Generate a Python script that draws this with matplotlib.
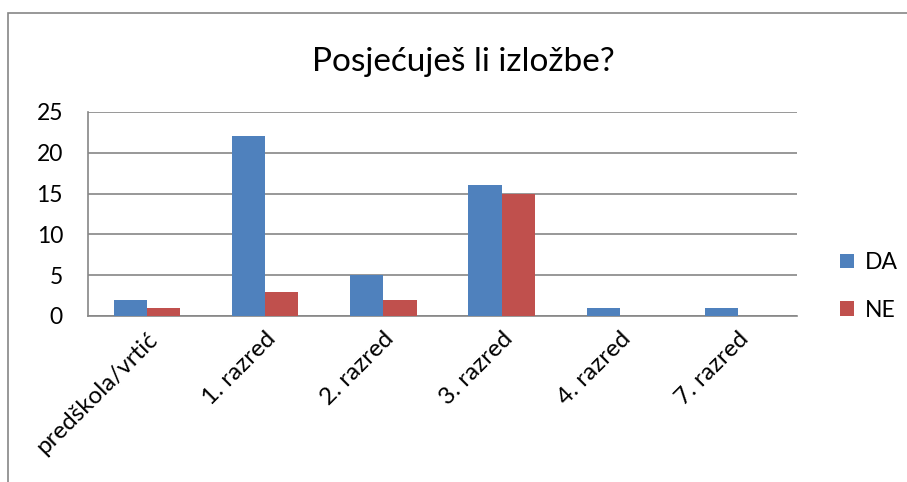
import matplotlib.pyplot as plt
import numpy as np
from matplotlib.patches import Rectangle

categories = ["predškola/vrtić", "1. razred", "2. razred", "3. razred", "4. razred", "7. razred"]
da_values = [2, 22, 5, 16, 1, 1]
ne_values = [1, 3, 2, 15, 0, 0]

plt.rcParams['font.family'] = ['Lato', 'DejaVu Sans']

fig = plt.figure(figsize=(9.07, 4.82), dpi=100)
ax = fig.add_axes([88 / 907, 1 - 316 / 482, (797 - 88) / 907, (316 - 112) / 482])

# outer chart frame (partly cut off in the original)
fig.patches.append(Rectangle((8 / 907, -0.1), 1.1, 1 - 13 / 482 + 0.1,
                             transform=fig.transFigure, fill=False,
                             edgecolor='#868686', linewidth=1.2))

x = np.arange(len(categories))
w = 0.28
ax.bar(x - w / 2, da_values, w, color='#4F81BD', label='DA', zorder=3)
ax.bar(x + w / 2, ne_values, w, color='#C0504D', label='NE', zorder=3)

ax.set_xlim(-0.5, len(categories) - 0.5)
ax.set_ylim(0, 25)
ax.set_yticks([0, 5, 10, 15, 20, 25])
ax.yaxis.grid(True, color='#868686', linewidth=1.2, zorder=0)
ax.tick_params(axis='y', length=0, labelsize=16.5, pad=18)
ax.tick_params(axis='x', length=0, labelsize=17.5, pad=9)
ax.set_xticks(x)
ax.set_xticklabels(categories, rotation=45, ha='right', rotation_mode='anchor')

for s in ['top', 'right']:
    ax.spines[s].set_visible(False)
for s in ['left', 'bottom']:
    ax.spines[s].set_color('#868686')
    ax.spines[s].set_linewidth(1.2)

fig.text(463 / 907, 1 - 62 / 482, "Posjećuješ li izložbe?", fontsize=24,
         ha='center', va='center')

ax.legend(loc='center left', bbox_to_anchor=(1.032, 0.145), frameon=False,
          fontsize=16.5, handlelength=0.6, handleheight=0.6,
          handletextpad=0.45, labelspacing=1.15)

fig.savefig('out.png', dpi=100)
